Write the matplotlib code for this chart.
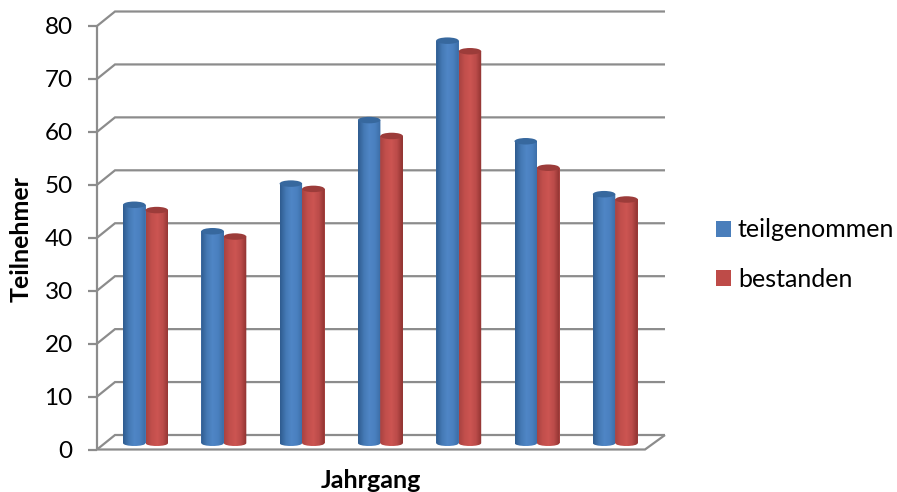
import numpy as np
import matplotlib
matplotlib.use("Agg")
import matplotlib.pyplot as plt
from matplotlib.patches import Ellipse, Patch, PathPatch
from matplotlib.path import Path
from matplotlib.colors import LinearSegmentedColormap

teilgenommen = [45, 40, 49, 61, 76, 57, 47]
bestanden = [44, 39, 48, 58, 74, 52, 46]
y_ticks = [0, 10, 20, 30, 40, 50, 60, 70, 80]

W, H = 897, 492
plt.rcParams['font.family'] = ['Lato', 'DejaVu Sans']
fig = plt.figure(figsize=(W / 100, H / 100), dpi=100)
ax = fig.add_axes([97 / W, (H - 449.5) / H, 548 / W, 423.5 / H])
px_x = 78.3
px_y = 423.5 / 80
ax.set_xlim((97 - 146) / px_x, (645 - 146) / px_x)
ax.set_ylim(0, 80)
for s in ax.spines.values():
    s.set_visible(False)

GRID = '#8c8c8c'
lw = 1.6
dx, dy = 20 / px_x, 14.5 / px_y
x0, x1 = ax.get_xlim()
lkw = dict(color=GRID, lw=lw, clip_on=False, zorder=1, solid_capstyle='butt', solid_joinstyle='miter')

# back wall gridlines with their side-wall diagonals
for t in y_ticks:
    ax.plot([x0, x0 + 18 / px_x, x1 + dx], [t, t + dy, t + dy], **lkw)
# side wall and floor
ax.plot([x0, x0], [0, 80], **lkw)
ax.plot([x0, x1, x1 + dx], [0, 0, dy], **lkw)

ax.set_xticks([])
ax.set_yticks(y_ticks)
ax.tick_params(axis='y', length=6.5, width=lw, color=GRID, pad=11, labelsize=17.5, labelcolor='black')
ax.set_ylabel('Teilnehmer', fontsize=18, fontweight='bold', va='center')
ax.yaxis.set_label_coords((21 - 97) / 548, (449.5 - 239) / 423.5)
ax.set_xlabel('Jahrgang', fontsize=18, fontweight='bold', va='center')
ax.xaxis.set_label_coords((371 - 97) / 548, (449.5 - 480) / 423.5)

blue_cm = LinearSegmentedColormap.from_list('b', ['#2f5c8f', '#4479b4', '#4f86c6', '#4a80bf', '#3b6ca5'])
red_cm = LinearSegmentedColormap.from_list('r', ['#a84341', '#c24f4c', '#cc5552', '#bb4b49', '#8e3331'])
grad = np.linspace(0, 1, 64).reshape(1, -1)

bw = 22.5 / px_x
base = 6.5 / px_y
eh = 6.5 / px_y
ctrl = 4 / px_y


def cylinders(xs, vals, cmap, solid, top):
    bars = ax.bar(xs, vals, bw, bottom=base, color=solid, zorder=3, clip_on=False)
    for b, v in zip(bars, vals):
        l = b.get_x()
        r = l + bw
        c = l + bw / 2
        ybot = base
        ytop = base + v
        verts = [(l, ytop), (l, ybot),
                 (l, ybot - ctrl), (r, ybot - ctrl), (r, ybot),
                 (r, ytop), (l, ytop)]
        codes = [Path.MOVETO, Path.LINETO, Path.CURVE4, Path.CURVE4, Path.CURVE4, Path.LINETO, Path.CLOSEPOLY]
        clip = PathPatch(Path(verts, codes), transform=ax.transData, fc='none', ec='none')
        ax.add_patch(clip)
        im = ax.imshow(grad, extent=[l, r, ybot - eh, ytop], cmap=cmap, aspect='auto', zorder=4, vmin=0, vmax=1)
        im.set_clip_path(clip)
        ax.add_patch(Ellipse((c, ytop), bw, eh, fc=top, ec='none', zorder=5, clip_on=False))


idx = np.arange(len(teilgenommen))
offset = 11.25 / px_x
cylinders(idx - offset - 0.5 / px_x, teilgenommen, blue_cm, '#4f81bd', '#37689e')
cylinders(idx + offset - 0.5 / px_x, bestanden, red_cm, '#c0504d', '#9c3c3a')
ax.set_xlim(x0, x1)
ax.set_ylim(0, 80)

handles = [Patch(fc='#4a7ebb', ec='none', label='teilgenommen'),
           Patch(fc='#be4b48', ec='none', label='bestanden')]
fig.legend(handles=handles, loc='center left', bbox_to_anchor=(716 / W, (H - 254.5) / H), frameon=False,
           fontsize=18, handlelength=0.6, handleheight=0.6, handletextpad=0.28,
           labelspacing=1.05, borderpad=0, borderaxespad=0)
fig.savefig('out.png', dpi=100)
